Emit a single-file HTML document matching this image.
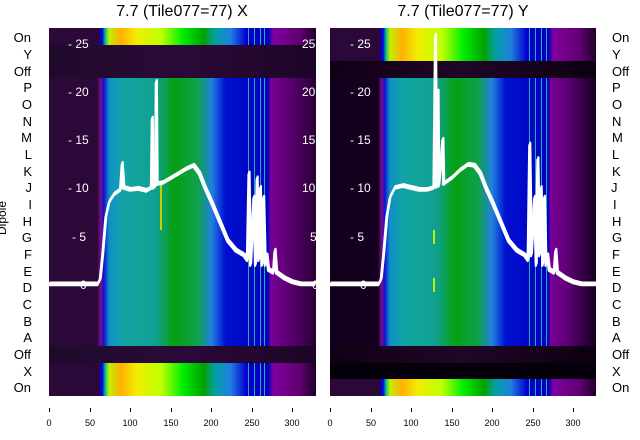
<!DOCTYPE html>
<html><head><meta charset="utf-8"><style>
html,body{margin:0;padding:0;background:#fff;width:640px;height:440px;overflow:hidden}
svg{display:block;font-family:"Liberation Sans","DejaVu Sans",sans-serif}
</style></head><body>
<svg width="640" height="440" viewBox="0 0 640 440" xmlns="http://www.w3.org/2000/svg">
<defs>
<linearGradient id="body" x1="0" x2="1" y1="0" y2="0">
<stop offset="0" stop-color="#2a0838"/><stop offset="0.18" stop-color="#2c0838"/>
<stop offset="0.195" stop-color="#7a1090"/><stop offset="0.205" stop-color="#1010d0"/>
<stop offset="0.225" stop-color="#1090c8"/><stop offset="0.28" stop-color="#12a4a4"/>
<stop offset="0.4" stop-color="#10a090"/><stop offset="0.47" stop-color="#05a010"/>
<stop offset="0.56" stop-color="#10a050"/><stop offset="0.61" stop-color="#2080e0"/>
<stop offset="0.66" stop-color="#0010d0"/><stop offset="0.82" stop-color="#0000c0"/>
<stop offset="0.83" stop-color="#7a0098"/><stop offset="0.9" stop-color="#5a0070"/>
<stop offset="1" stop-color="#2a0035"/></linearGradient>
<linearGradient id="bodyR" x1="0" x2="1" y1="0" y2="0">
<stop offset="0" stop-color="#14001e"/><stop offset="0.18" stop-color="#16001f"/>
<stop offset="0.195" stop-color="#7a1090"/><stop offset="0.205" stop-color="#1010d0"/>
<stop offset="0.225" stop-color="#1090c8"/><stop offset="0.28" stop-color="#12a4a4"/>
<stop offset="0.4" stop-color="#10a090"/><stop offset="0.47" stop-color="#05a010"/>
<stop offset="0.56" stop-color="#10a050"/><stop offset="0.61" stop-color="#2080e0"/>
<stop offset="0.66" stop-color="#0010d0"/><stop offset="0.82" stop-color="#0000c0"/>
<stop offset="0.83" stop-color="#7a0098"/><stop offset="0.9" stop-color="#5a0070"/>
<stop offset="1" stop-color="#14001e"/></linearGradient>
<linearGradient id="spec" x1="0" x2="1" y1="0" y2="0">
<stop offset="0" stop-color="#2a0838"/><stop offset="0.185" stop-color="#2a0838"/>
<stop offset="0.2" stop-color="#0000ff"/><stop offset="0.21" stop-color="#00c080"/>
<stop offset="0.225" stop-color="#c0f000"/><stop offset="0.27" stop-color="#ffb000"/>
<stop offset="0.33" stop-color="#f0ee00"/><stop offset="0.42" stop-color="#c0ff00"/>
<stop offset="0.5" stop-color="#00f000"/><stop offset="0.58" stop-color="#00a000"/>
<stop offset="0.62" stop-color="#00a0a0"/><stop offset="0.68" stop-color="#2080e0"/>
<stop offset="0.74" stop-color="#0000d0"/><stop offset="0.82" stop-color="#0000c0"/>
<stop offset="0.84" stop-color="#8000a0"/><stop offset="0.94" stop-color="#600070"/>
<stop offset="1" stop-color="#200028"/></linearGradient>
<linearGradient id="dark" x1="0" x2="1"><stop offset="0" stop-color="#200a2c"/><stop offset="0.5" stop-color="#2a0a38"/><stop offset="1" stop-color="#1c0426"/></linearGradient>
<linearGradient id="darkR" x1="0" x2="1"><stop offset="0" stop-color="#100014"/><stop offset="0.5" stop-color="#200628"/><stop offset="1" stop-color="#0c0010"/></linearGradient>
<path id="curve" d="M0 0 L60 0 63 0.5 66 3 70 7 74 8.5 80 9.3 88 9.8 90 12.5 92 10 100 9.8 110 9.9 120 9.7 126 10 127 17.2 128 10 131 10.2 132 21 133 10.4 140 10.5 150 11 160 11.5 170 12 178 12.3 185 11.5 192 10 200 8.5 210 6.5 220 4.5 230 3.5 240 3 244 2.5 246 11.5 248 2 252 9 254 2 256 11 258 2.5 260 10 262 2 264 9 266 2 268 3 270 1.5 276 1.2 278 3.5 280 1.2 290 0.6 300 0.2 310 0 328 0" fill="none" stroke="#fff" stroke-width="2.2" vector-effect="non-scaling-stroke" stroke-linejoin="round"/>
<path id="curveR" d="M0 0 L60 0 63 0.5 66 3 70 7 74 9 80 10 90 10.2 100 10 110 9.8 120 9.8 128 10 130 25.8 131 10.1 133 20 134 10.2 139 15 140 10.4 150 11 160 11.8 170 12.4 178 12.3 185 11.5 192 10 200 8.5 210 6.5 220 4.5 230 3.5 240 3 244 2.5 246 14.5 248 3 252 9 254 2 256 13 258 3 260 10 262 2 264 9 266 2 268 3 270 1.5 276 1.2 278 3.5 280 1.2 290 0.6 300 0.2 310 0 328 0" fill="none" stroke="#fff" stroke-width="2.2" vector-effect="non-scaling-stroke" stroke-linejoin="round"/>
</defs>

<!-- Left panel -->
<text x="182" y="16" font-size="16" text-anchor="middle" fill="#000">7.7 (Tile077=77) X</text>
<rect x="49" y="28" width="267" height="17" fill="url(#spec)"/>
<rect x="49" y="45" width="267" height="33" fill="url(#dark)"/>
<rect x="49" y="78" width="267" height="268" fill="url(#body)"/>
<rect x="49" y="346" width="267" height="17" fill="url(#dark)"/>
<rect x="49" y="363" width="267" height="33" fill="url(#spec)"/>
<g fill="#20b0b0"><rect x="248" y="28" width="1" height="17"/><rect x="254" y="28" width="1" height="17"/><rect x="260" y="28" width="1" height="17"/><rect x="264" y="28" width="1" height="17"/>
<rect x="248" y="78" width="1" height="268"/><rect x="254" y="78" width="1" height="268"/><rect x="260" y="78" width="1" height="268"/><rect x="264" y="78" width="1" height="268"/>
<rect x="248" y="363" width="1" height="33"/><rect x="254" y="363" width="1" height="33"/><rect x="260" y="363" width="1" height="33"/><rect x="264" y="363" width="1" height="33"/></g>
<rect x="160" y="185" width="2" height="45" fill="#c0d000"/>
<g transform="translate(49,284) scale(0.813,-9.64)">
<use href="#curve"/>
<use href="#curve" transform="translate(0.6,0.15)"/>
<use href="#curve" transform="translate(-0.6,-0.12)"/>
</g>
<g fill="#fff" font-size="12">
<text x="68" y="48">- 25</text><text x="68" y="96">- 20</text><text x="68" y="144">- 15</text><text x="68" y="192">- 10</text><text x="72" y="241">- 5</text><text x="80" y="289">0</text>
<text x="302" y="48">25</text><text x="302" y="96">20</text><text x="302" y="144">15</text><text x="302" y="192">10</text><text x="310" y="241">5</text><text x="312" y="289">0</text>
</g>
<rect x="316" y="20" width="14" height="390" fill="#fff"/>

<!-- Right panel -->
<text x="463" y="16" font-size="16" text-anchor="middle" fill="#000">7.7 (Tile077=77) Y</text>
<rect x="330" y="28" width="266" height="33" fill="url(#spec)"/>
<rect x="330" y="61" width="266" height="17" fill="url(#darkR)"/>
<rect x="330" y="78" width="266" height="268" fill="url(#bodyR)"/>
<rect x="330" y="346" width="266" height="17" fill="url(#darkR)"/>
<rect x="330" y="363" width="266" height="16" fill="#06000a"/>
<rect x="330" y="379" width="266" height="17" fill="url(#spec)"/>
<g fill="#20b0b0"><rect x="529" y="28" width="1" height="33"/><rect x="535" y="28" width="1" height="33"/><rect x="541" y="28" width="1" height="33"/><rect x="546" y="28" width="1" height="33"/>
<rect x="529" y="78" width="1" height="268"/><rect x="535" y="78" width="1" height="268"/><rect x="541" y="78" width="1" height="268"/><rect x="546" y="78" width="1" height="268"/>
<rect x="529" y="379" width="1" height="17"/><rect x="535" y="379" width="1" height="17"/><rect x="541" y="379" width="1" height="17"/><rect x="546" y="379" width="1" height="17"/></g>
<rect x="433" y="230" width="2" height="14" fill="#c0f000"/><rect x="433" y="278" width="2" height="14" fill="#c0f000"/>
<g transform="translate(330,284) scale(0.812,-9.64)">
<use href="#curveR"/>
<use href="#curveR" transform="translate(0.6,0.15)"/>
<use href="#curveR" transform="translate(-0.6,-0.12)"/>
</g>
<g fill="#fff" font-size="12">
<text x="350" y="48">- 25</text><text x="350" y="96">- 20</text><text x="350" y="144">- 15</text><text x="350" y="192">- 10</text><text x="350" y="241">- 5</text><text x="360" y="289">0</text>
</g>

<!-- Row labels -->
<g font-size="13" fill="#000">
<g text-anchor="end">
<text x="31" y="42">On</text><text x="32" y="59">Y</text><text x="31" y="76">Off</text><text x="32" y="92">P</text><text x="32" y="109">O</text><text x="32" y="126">N</text><text x="32" y="142">M</text><text x="32" y="159">L</text><text x="32" y="176">K</text><text x="32" y="192">J</text><text x="32" y="209">I</text><text x="32" y="226">H</text><text x="32" y="242">G</text><text x="32" y="259">F</text><text x="32" y="276">E</text><text x="32" y="292">D</text><text x="32" y="309">C</text><text x="32" y="326">B</text><text x="32" y="342">A</text><text x="31" y="359">Off</text><text x="32" y="376">X</text><text x="31" y="392">On</text>
</g>
<g>
<text x="612" y="42">On</text><text x="612" y="59">Y</text><text x="612" y="76">Off</text><text x="612" y="92">P</text><text x="612" y="109">O</text><text x="612" y="126">N</text><text x="612" y="142">M</text><text x="612" y="159">L</text><text x="612" y="176">K</text><text x="611" y="192">J</text><text x="613" y="209">I</text><text x="612" y="226">H</text><text x="612" y="242">G</text><text x="612" y="259">F</text><text x="612" y="276">E</text><text x="612" y="292">D</text><text x="612" y="309">C</text><text x="612" y="326">B</text><text x="612" y="342">A</text><text x="612" y="359">Off</text><text x="612" y="376">X</text><text x="612" y="392">On</text>
</g>
<text transform="translate(6,218) rotate(-90)" text-anchor="middle" font-size="12">Dipole</text>
</g>

<!-- X ticks -->
<g stroke="#000" stroke-width="1">
<path d="M49.5 408v4M90.5 408v4M130.5 408v4M171.5 408v4M211.5 408v4M252.5 408v4M292.5 408v4"/>
<path d="M330.5 408v4M371.5 408v4M411.5 408v4M452.5 408v4M492.5 408v4M533.5 408v4M573.5 408v4"/>
</g>
<g font-size="9" fill="#000" text-anchor="middle">
<text x="49" y="426">0</text><text x="90" y="426">50</text><text x="130" y="426">100</text><text x="171" y="426">150</text><text x="211" y="426">200</text><text x="252" y="426">250</text><text x="292" y="426">300</text>
<text x="330" y="426">0</text><text x="371" y="426">50</text><text x="411" y="426">100</text><text x="452" y="426">150</text><text x="492" y="426">200</text><text x="533" y="426">250</text><text x="573" y="426">300</text>
</g>
</svg>
</body></html>
